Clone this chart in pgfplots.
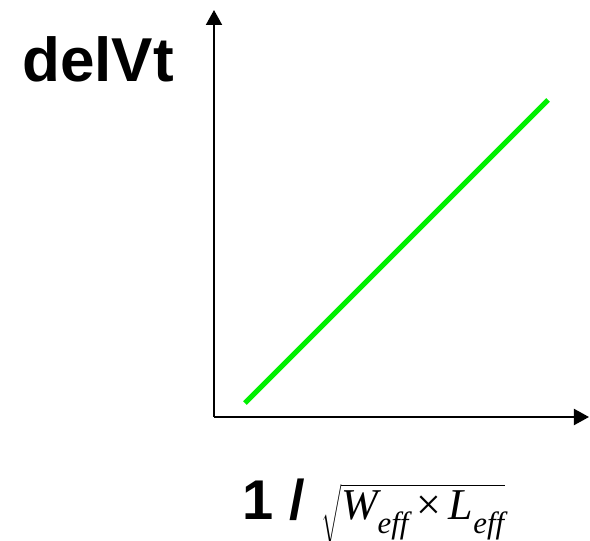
\documentclass[border=0pt]{standalone}
\usepackage{fontspec}
\setmainfont{Liberation Sans}
\newfontfamily\timesf{Liberation Serif}
\usepackage{pgfplots}
\pgfplotsset{compat=1.18}
\usetikzlibrary{arrows.meta}
\definecolor{linegreen}{RGB}{0,240,0}
\begin{document}
\begin{tikzpicture}
\useasboundingbox (-107pt,-62pt) rectangle (188pt,208.5pt);
\begin{axis}[
  at={(0,0)}, anchor=south west,
  scale only axis,
  width=187.5pt, height=203.5pt,
  xmin=0, xmax=375, ymin=0, ymax=407,
  axis lines=left,
  axis line style={line width=1pt, -{Triangle[length=7.5pt,width=8pt]}},
  xtick=\empty, ytick=\empty,
  clip=false,
]
\addplot[linegreen, line width=2.6pt] coordinates {(31,14) (334,317)};
\end{axis}
\node[anchor=base, font=\bfseries\fontsize{31}{34}\selectfont] at (-58pt,167.5pt) {delVt};
\node[anchor=base] at (80pt,-51.5pt) {{\bfseries\fontsize{28}{32}\selectfont 1 /}\hspace{8pt}\fontsize{22}{26}\selectfont$\sqrt{\mbox{\timesf{\itshape W\raisebox{-3pt}{\textsubscript{eff}}}\,\texttimes\,{\itshape L\raisebox{-3pt}{\textsubscript{eff}}}}}$};
\end{tikzpicture}
\end{document}
